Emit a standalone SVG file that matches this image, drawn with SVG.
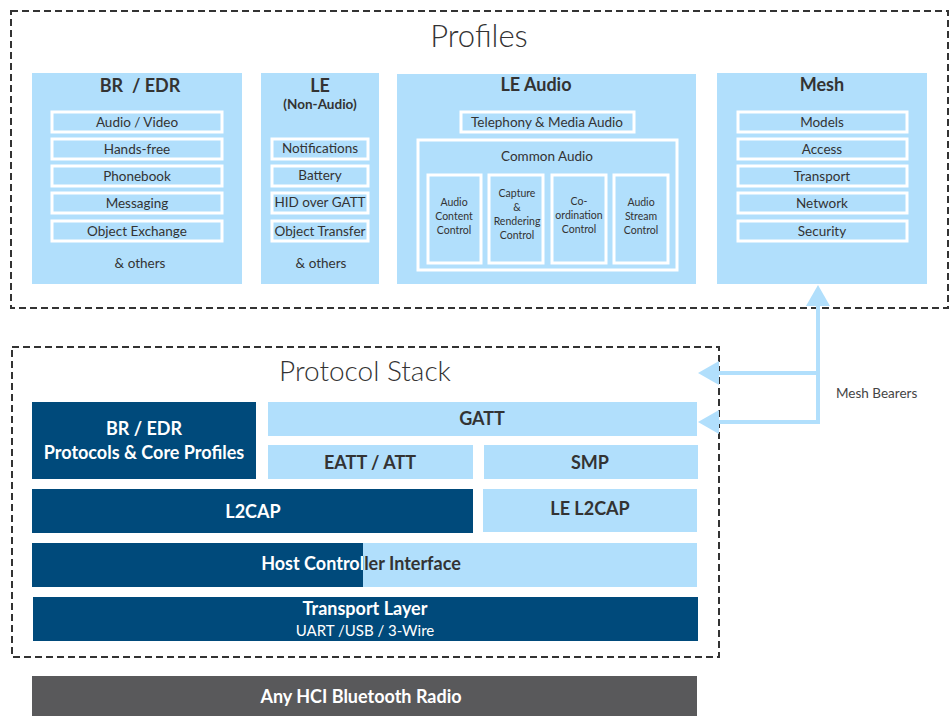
<svg xmlns="http://www.w3.org/2000/svg" width="952" height="716" viewBox="0 0 952 716">
<style>
text{font-family:Lato,"Liberation Sans",sans-serif;text-anchor:middle;fill:#333}
.dash{fill:none;stroke:#333;stroke-width:2;stroke-dasharray:7 4}
.lb{fill:#b1dffc}
.db{fill:#004a7b}
.item{fill:#b1dffc;stroke:#fff;stroke-width:3}
.t{font-size:13.5px}
.s{font-size:10.5px}
.h{font-size:18px;font-weight:bold}
.big{font-size:31px;font-weight:300}
.w{fill:#fff}
.b{font-weight:bold}
.conn{fill:none;stroke:#b1dffc;stroke-width:4}
</style>
<defs>
<marker id="ah" markerUnits="userSpaceOnUse" markerWidth="21" markerHeight="24" refX="1" refY="12" orient="auto">
<path d="M0,0 L21,12 L0,24 z" fill="#b1dffc"/>
</marker>
<clipPath id="cl"><rect x="32" y="543" width="331" height="44"/></clipPath>
<clipPath id="cr"><rect x="363" y="543" width="334" height="44"/></clipPath>
</defs>
<rect class="dash" x="11" y="11" width="937" height="297"/>
<text class="big" x="479" y="47">Profiles</text>

<g id="bredr-profiles">
<rect class="lb" x="32" y="73" width="210" height="211"/>
<text class="h" x="140" y="92" xml:space="preserve">BR  / EDR</text>
<rect class="item" x="52" y="112" width="170" height="20"/><text class="t" x="137" y="127">Audio / Video</text>
<rect class="item" x="52" y="139" width="170" height="20"/><text class="t" x="137" y="154">Hands-free</text>
<rect class="item" x="52" y="166" width="170" height="20"/><text class="t" x="137" y="181">Phonebook</text>
<rect class="item" x="52" y="193" width="170" height="20"/><text class="t" x="137" y="208">Messaging</text>
<rect class="item" x="52" y="221" width="170" height="20"/><text class="t" x="137" y="236">Object Exchange</text>
<text class="t" x="140" y="268">&amp; others</text>
</g>

<g id="le-profiles">
<rect class="lb" x="261" y="73" width="118" height="211"/>
<text class="h" x="320" y="92">LE</text>
<text class="t b" x="320" y="109">(Non-Audio)</text>
<rect class="item" x="272" y="139" width="96" height="20"/><text class="t" x="320" y="153">Notifications</text>
<rect class="item" x="272" y="166" width="96" height="20"/><text class="t" x="320" y="180">Battery</text>
<rect class="item" x="272" y="193" width="96" height="20"/><text class="t" x="320" y="207">HID over GATT</text>
<rect class="item" x="272" y="221" width="96" height="20"/><text class="t" x="320" y="236">Object Transfer</text>
<text class="t" x="321" y="268">&amp; others</text>
</g>

<g id="le-audio">
<rect class="lb" x="397" y="74" width="299" height="210"/>
<text class="h" x="536" y="91">LE Audio</text>
<rect class="item" x="461" y="112" width="173" height="20"/><text class="t" x="547" y="127">Telephony &amp; Media Audio</text>
<rect class="item" x="418" y="140" width="259" height="130"/>
<text class="t" x="547" y="161">Common Audio</text>
<rect class="item" x="428" y="175" width="53" height="88"/>
<text class="s"><tspan x="454" y="206">Audio</tspan><tspan x="454" y="220">Content</tspan><tspan x="454" y="234">Control</tspan></text>
<rect class="item" x="489" y="175" width="54" height="88"/>
<text class="s"><tspan x="517" y="197">Capture</tspan><tspan x="517" y="211">&amp;</tspan><tspan x="517" y="225">Rendering</tspan><tspan x="517" y="239">Control</tspan></text>
<rect class="item" x="552" y="175" width="54" height="88"/>
<text class="s"><tspan x="579" y="205">Co-</tspan><tspan x="579" y="219">ordination</tspan><tspan x="579" y="233">Control</tspan></text>
<rect class="item" x="614" y="175" width="54" height="88"/>
<text class="s"><tspan x="641" y="206">Audio</tspan><tspan x="641" y="220">Stream</tspan><tspan x="641" y="234">Control</tspan></text>
</g>

<g id="mesh">
<rect class="lb" x="717" y="73" width="210" height="211"/>
<text class="h" x="822" y="91">Mesh</text>
<rect class="item" x="738" y="112" width="169" height="20"/><text class="t" x="822" y="127">Models</text>
<rect class="item" x="738" y="139" width="169" height="20"/><text class="t" x="822" y="154">Access</text>
<rect class="item" x="738" y="166" width="169" height="20"/><text class="t" x="822" y="181">Transport</text>
<rect class="item" x="738" y="193" width="169" height="20"/><text class="t" x="822" y="208">Network</text>
<rect class="item" x="738" y="221" width="169" height="20"/><text class="t" x="822" y="236">Security</text>
</g>

<rect class="dash" x="12" y="347" width="707" height="310"/>
<text class="big" x="365" y="381" style="font-size:28px">Protocol Stack</text>

<g id="bredr-core">
<rect class="db" x="32" y="402" width="224" height="77"/>
<text class="h w"><tspan x="144" y="435">BR / EDR</tspan><tspan x="144" y="459">Protocols &amp; Core Profiles</tspan></text>
</g>
<g id="gatt">
<rect class="lb" x="268" y="402" width="429" height="34"/>
<text class="h" x="482" y="425">GATT</text>
</g>
<g id="eatt">
<rect class="lb" x="268" y="445" width="205" height="34"/>
<text class="h" x="370" y="469">EATT / ATT</text>
</g>
<g id="smp">
<rect class="lb" x="484" y="445" width="214" height="34"/>
<text class="h" x="590" y="469">SMP</text>
</g>
<g id="l2cap">
<rect class="db" x="32" y="489" width="441" height="44"/>
<text class="h w" x="253" y="518">L2CAP</text>
</g>
<g id="le-l2cap">
<rect class="lb" x="483" y="489" width="214" height="43"/>
<text class="h" x="590" y="515">LE L2CAP</text>
</g>
<g id="hci">
<rect class="db" x="32" y="543" width="331" height="44"/>
<rect class="lb" x="363" y="543" width="334" height="44"/>
<text class="h w" x="361" y="570" clip-path="url(#cl)">Host Controller Interface</text>
<text class="h" x="361" y="570" clip-path="url(#cr)">Host Controller Interface</text>
</g>
<g id="transport">
<rect class="db" x="33" y="597" width="665" height="44"/>
<text class="h w" x="365" y="615">Transport Layer</text>
<text class="w" x="365" y="636" style="font-size:15px">UART /USB / 3-Wire</text>
</g>
<g id="radio">
<rect x="32" y="676" width="665" height="40" fill="#59595b"/>
<text class="h w" x="361" y="703">Any HCI Bluetooth Radio</text>
</g>

<g id="connectors">
<path class="conn" d="M818,422 L818,305" marker-end="url(#ah)"/>
<path class="conn" d="M820,422 L718,422" marker-end="url(#ah)"/>
<path class="conn" d="M818,373 L718,373" marker-end="url(#ah)"/>
<text x="836" y="398" style="font-size:13.5px;fill:#444;text-anchor:start">Mesh Bearers</text>
</g>
</svg>
